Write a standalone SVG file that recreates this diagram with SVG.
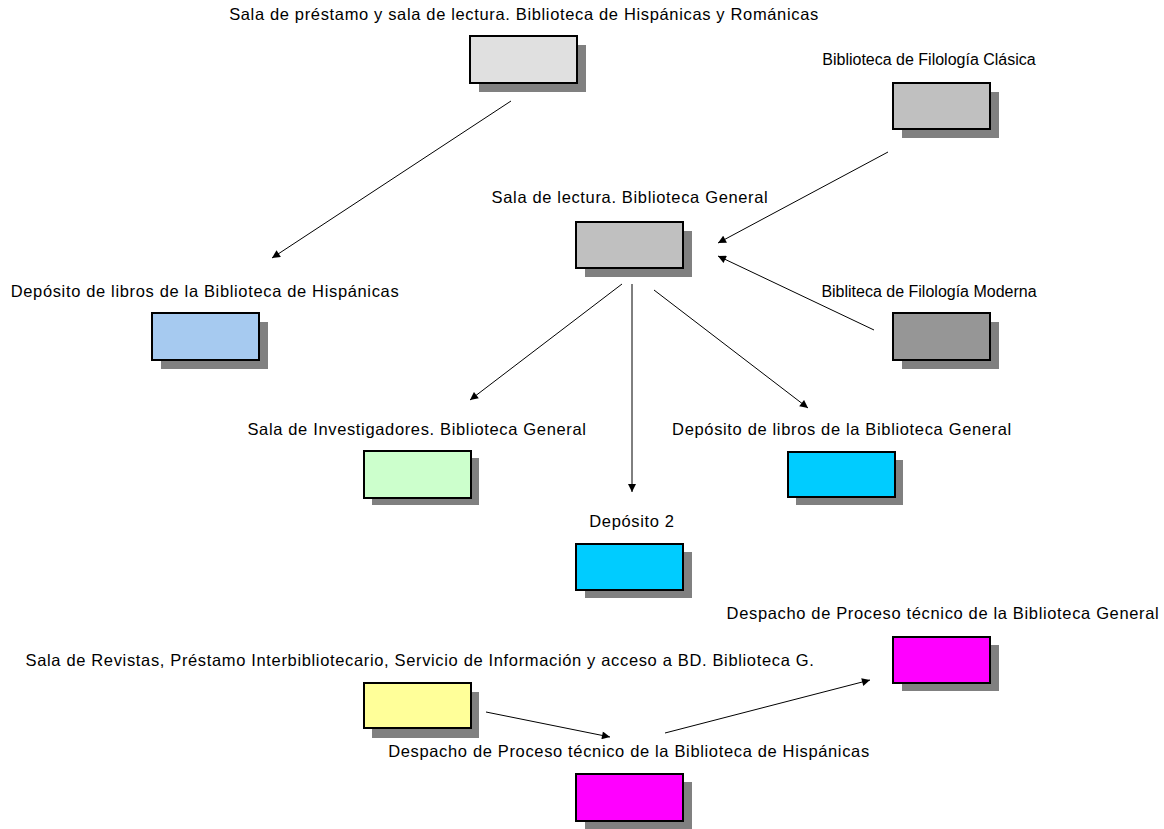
<svg xmlns="http://www.w3.org/2000/svg" width="1164" height="829" viewBox="0 0 1164 829">
<style>
text{font-family:"Liberation Sans",Arial,sans-serif;font-size:16.5px;letter-spacing:0.65px;fill:#000;text-anchor:middle}
text.n{font-size:16px;letter-spacing:0}
.sh{fill:#808080}
.bx{stroke:#000;stroke-width:2}
.c line{stroke:#000;stroke-width:1;marker-end:url(#ah)}
</style>
<defs>
<marker id="ah" viewBox="0 0 10 10" refX="10" refY="5" markerWidth="10" markerHeight="8" markerUnits="userSpaceOnUse" orient="auto">
<path d="M0,0L10,5L0,10z" fill="#000"/>
</marker>
</defs>
<rect width="1164" height="829" fill="#fff"/>
<g id="n1">
<rect class="sh" x="479" y="45" width="107" height="47"/>
<rect class="bx" x="470" y="36" width="107" height="47" fill="#E0E0E0"/>
<text x="524" y="20">Sala de préstamo y sala de lectura. Biblioteca de Hispánicas y Románicas</text>
</g>
<g id="n2">
<rect class="sh" x="902" y="92" width="97" height="46"/>
<rect class="bx" x="893" y="83" width="97" height="46" fill="#C0C0C0"/>
<text class="n" x="929" y="65">Biblioteca de Filología Clásica</text>
</g>
<g id="n3">
<rect class="sh" x="585" y="231" width="107" height="46"/>
<rect class="bx" x="576" y="222" width="107" height="46" fill="#C0C0C0"/>
<text x="630" y="203">Sala de lectura. Biblioteca General</text>
</g>
<g id="n4">
<rect class="sh" x="161" y="322" width="107" height="47"/>
<rect class="bx" x="152" y="313" width="107" height="47" fill="#A6CAF0"/>
<text x="205" y="297">Depósito de libros de la Biblioteca de Hispánicas</text>
</g>
<g id="n5">
<rect class="sh" x="902" y="322" width="97" height="47"/>
<rect class="bx" x="893" y="313" width="97" height="47" fill="#969696"/>
<text class="n" x="929" y="297">Bibliteca de Filología Moderna</text>
</g>
<g id="n6">
<rect class="sh" x="372" y="458" width="107" height="47"/>
<rect class="bx" x="364" y="451" width="107" height="47" fill="#CCFFCC"/>
<text x="417" y="435">Sala de Investigadores. Biblioteca General</text>
</g>
<g id="n7">
<rect class="sh" x="796" y="460" width="107" height="45"/>
<rect class="bx" x="788" y="452" width="107" height="45" fill="#00CCFF"/>
<text x="842" y="435">Depósito de libros de la Biblioteca General</text>
</g>
<g id="n8">
<rect class="sh" x="585" y="552" width="107" height="46"/>
<rect class="bx" x="576" y="544" width="107" height="46" fill="#00CCFF"/>
<text x="632" y="527">Depósito 2</text>
</g>
<g id="n9">
<rect class="sh" x="902" y="645" width="97" height="46"/>
<rect class="bx" x="893" y="637" width="97" height="46" fill="#FF00FF"/>
<text x="943" y="619">Despacho de Proceso técnico de la Biblioteca General</text>
</g>
<g id="n10">
<rect class="sh" x="372" y="692" width="107" height="46"/>
<rect class="bx" x="364" y="683" width="107" height="45" fill="#FFFF99"/>
<text x="420" y="666">Sala de Revistas, Préstamo Interbibliotecario, Servicio de Información y acceso a BD. Biblioteca G.</text>
</g>
<g id="n11">
<rect class="sh" x="585" y="782" width="107" height="47"/>
<rect class="bx" x="576" y="774" width="107" height="47" fill="#FF00FF"/>
<text x="629" y="757">Despacho de Proceso técnico de la Biblioteca de Hispánicas</text>
</g>
<g id="connectors" class="c">
<line x1="511" y1="101" x2="272" y2="258"/>
<line x1="888" y1="152" x2="718" y2="243"/>
<line x1="874" y1="330" x2="718" y2="256"/>
<line x1="622" y1="284" x2="470" y2="400"/>
<line x1="632" y1="284" x2="632" y2="492"/>
<line x1="654" y1="290" x2="808" y2="408"/>
<line x1="486" y1="712" x2="610" y2="737"/>
<line x1="665" y1="733" x2="870" y2="680"/>
</g>
</svg>
